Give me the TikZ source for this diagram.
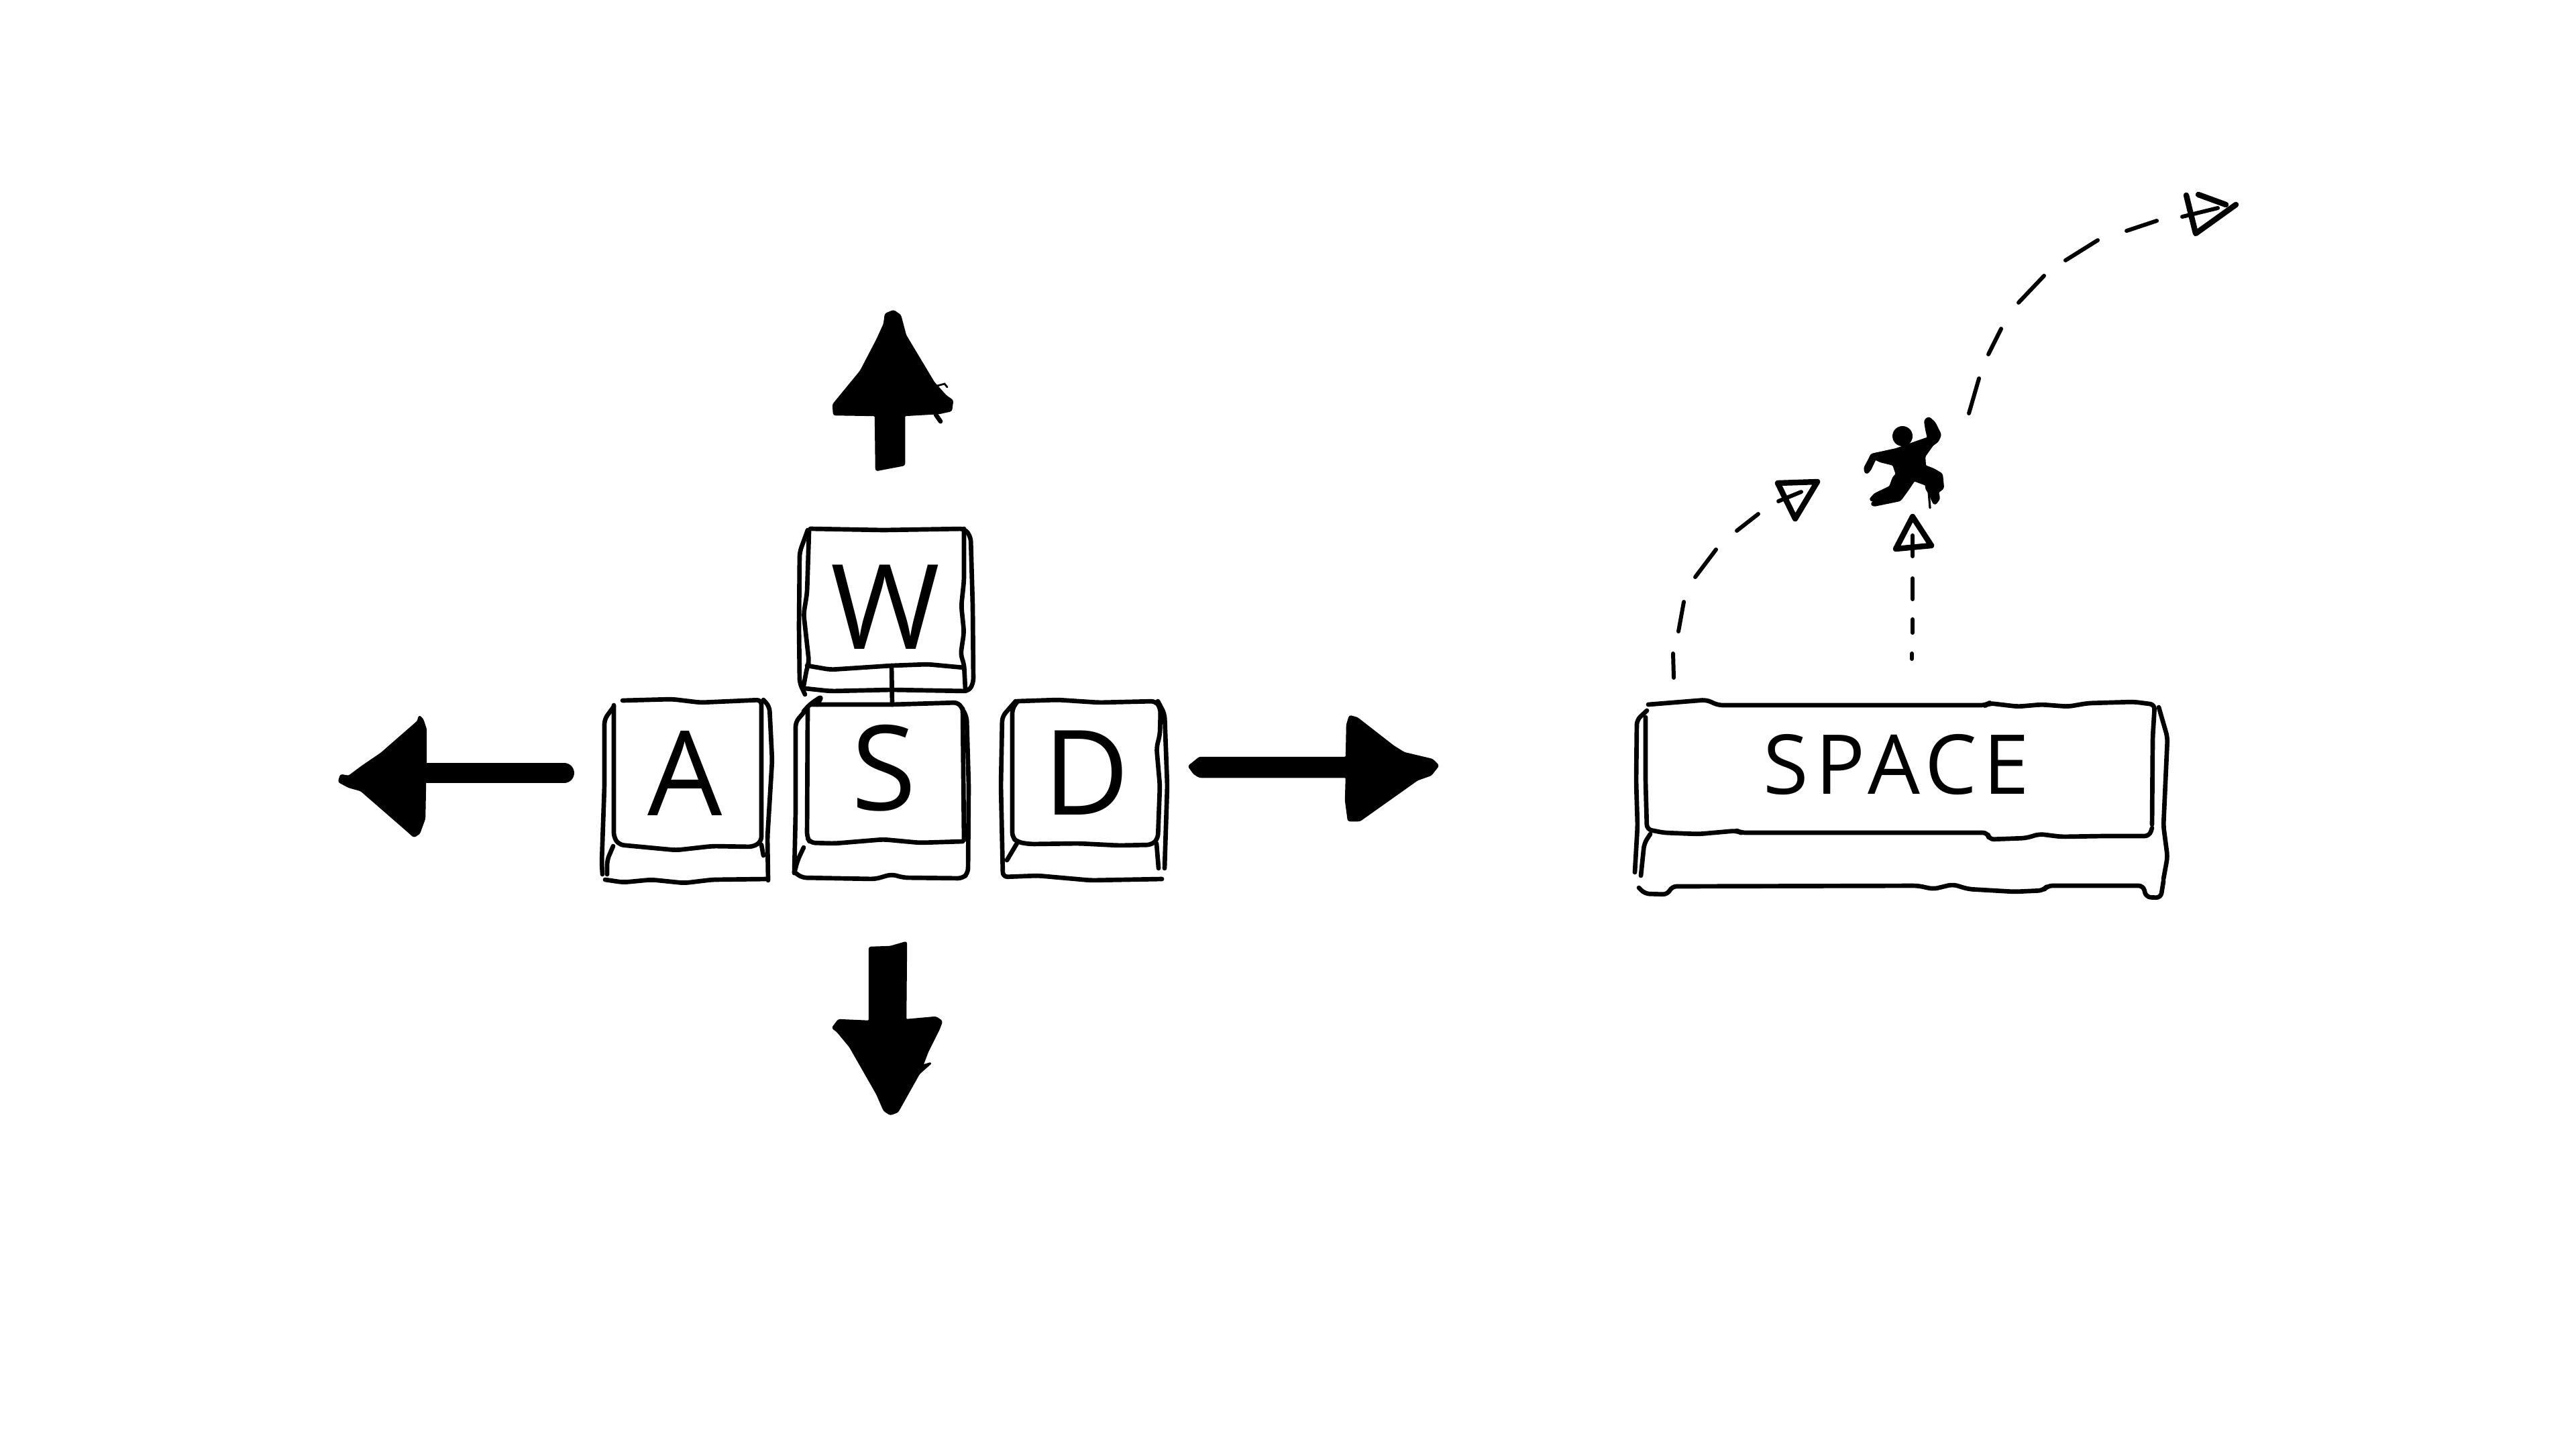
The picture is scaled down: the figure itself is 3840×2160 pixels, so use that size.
\documentclass[tikz,border=0pt]{standalone}
\usepackage{fontspec}
\setmainfont{Open Sans}
\newfontfamily\spacefont[LetterSpace=8]{Open Sans}
\usetikzlibrary{positioning}
\tikzset{
  keyline/.style={line width=1.9pt,line cap=round,line join=round,rounded corners=2pt},
  dashline/.style={line width=1.7pt,line cap=round},
  tipline/.style={line width=2.4pt,line cap=round,line join=round},
  keyletter/.style={inner sep=0pt,font=\fontsize{50}{50}\selectfont},
  solidhead/.style={fill=black,draw=black,line width=0.7pt,line join=round,rounded corners=0.7pt}
}
\begin{document}
\begin{tikzpicture}[x=0.01cm,y=-0.01cm]
\useasboundingbox (0,0) rectangle (3840,2160);

% letters
\node[keyletter] (keyW) at (1320,905) {W};
\node[keyletter] (keyA) at (1021,1152) {A};
\node[keyletter] (keyS) at (1318,1145) {S};
\node[keyletter] (keyD) at (1620,1152) {D};
\node[inner sep=0pt,font=\fontsize{35}{35}\selectfont\spacefont] (keySpace) at (2827,1140) {SPACE};

% W key
\draw[keyline] (1208,788) -- (1317,790) -- (1438,788) -- (1447,800) -- (1450,903) -- (1451,1018) -- (1444,1030) -- (1329,1028) -- (1238,1030) -- (1200,1026);
\draw[keyline] (1204,790) -- (1192,823) -- (1191,934) -- (1192,1018) -- (1200,1035);
\draw[keyline] (1206,792) -- (1203,884) -- (1198,915) -- (1206,987) -- (1203,995) -- (1198,1022);
\draw[keyline] (1203,992) -- (1238,998) -- (1329,992) -- (1383,990) -- (1437,995);
\draw[keyline] (1437,788) -- (1437,865) -- (1433,903) -- (1437,942) -- (1432,976) -- (1437,989) -- (1439,1028);
\coordinate (stemW) at (1329,992);
\coordinate (stemS) at (1330,1050);
\draw[keyline] (stemW) -- (stemS);

% A key
\draw[keyline] (928,1044) -- (1002,1042) -- (1044,1047) -- (1135,1043) -- (1135,1254) -- (1123,1262) -- (1062,1261) -- (1008,1267) -- (923,1259) -- (915,1248) -- (915,1051);
\draw[keyline] (915,1053) -- (901,1072) -- (901,1171) -- (897,1286) -- (898,1303);
\draw[keyline] (914,1261) -- (905,1282) -- (905,1303);
\draw[keyline] (1135,1259) -- (1138,1275);
\draw[keyline] (1138,1043) -- (1147,1053) -- (1151,1133) -- (1144,1248) -- (1145,1312);
\draw[keyline] (902,1311) -- (929,1315) -- (971,1311) -- (1020,1316) -- (1062,1311) -- (1144,1310);

% S key
\draw[keyline] (1198,1060) -- (1208,1049) -- (1226,1037) -- (1218,1050);
\draw[keyline] (1208,1050) -- (1329,1050) -- (1429,1047) -- (1441,1068) -- (1444,1171) -- (1443,1301) -- (1435,1309) -- (1347,1308) -- (1329,1303) -- (1305,1310) -- (1195,1308) -- (1186,1301);
\draw[keyline] (1204,1053) -- (1203,1248) -- (1208,1256) -- (1244,1257) -- (1317,1251) -- (1371,1256) -- (1435,1254);
\draw[keyline] (1198,1062) -- (1186,1076) -- (1186,1210) -- (1184,1301);
\draw[keyline] (1198,1263) -- (1189,1282) -- (1184,1301);
\draw[keyline] (1435,1056) -- (1437,1252);

% D key
\draw[keyline] (1517,1045) -- (1577,1043) -- (1638,1047) -- (1723,1045) -- (1730,1056) -- (1729,1095) -- (1724,1114) -- (1729,1171) -- (1726,1250) -- (1717,1259) -- (1668,1260) -- (1608,1257) -- (1535,1258) -- (1517,1255) -- (1509,1248) -- (1509,1056) -- (1517,1045);
\draw[keyline] (1514,1045) -- (1494,1068) -- (1492,1171) -- (1495,1307) -- (1547,1305) -- (1626,1312) -- (1732,1310);
\draw[keyline] (1726,1045) -- (1736,1064) -- (1740,1171) -- (1736,1294);
\draw[keyline] (1517,1255) -- (1501,1282);
\draw[keyline] (1724,1257) -- (1727,1294);

% space key
\draw[keyline] (2457,1050) -- (2544,1043) -- (2561,1051) -- (2960,1051) -- (2965,1048) -- (3008,1053) -- (3043,1050) -- (3083,1053) -- (3112,1048) -- (3181,1046) -- (3212,1050) -- (3209,1099) -- (3208,1229);
\draw[keyline] (2455,1059) -- (2440,1073) -- (2439,1165) -- (2441,1231) -- (2437,1300);
\draw[keyline] (2453,1069) -- (2453,1165) -- (2455,1236) -- (2480,1241) -- (2532,1243) -- (2589,1238) -- (2595,1241) -- (2963,1241) -- (2965,1251) -- (3020,1249) -- (3040,1243) -- (3072,1247) -- (3135,1246) -- (3204,1246) -- (3208,1234);
\draw[keyline] (3218,1054) -- (3231,1099) -- (3225,1231) -- (3231,1277) -- (3225,1310);
\draw[keyline] (2460,1243) -- (2451,1257) -- (2446,1305);
\draw[keyline] (2443,1323) -- (2452,1332) -- (2486,1333) -- (2492,1321) -- (2859,1320) -- (2882,1325) -- (2911,1318) -- (2934,1325) -- (3003,1329) -- (3046,1327) -- (3052,1320) -- (3195,1320) -- (3199,1337) -- (3221,1338) -- (3225,1313);

% big arrows
\fill[solidhead] (1332,463) -- (1320,468) -- (1318,483) -- (1307,507) -- (1283,553) -- (1242,603) -- (1243,618) -- (1305,619) -- (1306,701) -- (1348,693) -- (1348,619) -- (1400,616) -- (1418,612) -- (1420,597) -- (1410,590) -- (1392,570) -- (1350,500) -- (1342,470) -- cycle;
\draw[keyline] (1395,618) -- (1402,628);
\draw[line width=0.8pt,line cap=round] (1397,575) -- (1408,572) -- (1412,577);
\fill[solidhead] (505,1165) -- (508,1155) -- (520,1157) -- (540,1142) -- (568,1123) -- (623,1075) -- (625,1067) -- (630,1072) -- (635,1087) -- (635,1137) -- (634,1167) -- (633,1220) -- (625,1242) -- (617,1247) -- (607,1238) -- (538,1178) -- (520,1173) -- cycle;
\coordinate (leftShaft) at (634,1152);
\coordinate (leftEnd) at (841,1152);
\draw[line width=8.5pt,line cap=round] (leftShaft) -- (leftEnd);
\fill[solidhead] (1772,1142) -- (1788,1129) -- (2007,1129) -- (2008,1080) -- (2012,1067) -- (2023,1070) -- (2077,1112) -- (2093,1122) -- (2135,1132) -- (2144,1141) -- (2133,1155) -- (2113,1162) -- (2027,1223) -- (2010,1223) -- (2006,1193) -- (2007,1158) -- (1788,1158) -- (1780,1153) -- cycle;
\fill[solidhead] (1296,1412) -- (1327,1411) -- (1351,1404) -- (1350,1520) -- (1395,1516) -- (1404,1522) -- (1400,1533) -- (1383,1567) -- (1375,1588) -- (1388,1584) -- (1370,1600) -- (1338,1657) -- (1327,1661) -- (1318,1655) -- (1307,1630) -- (1267,1560) -- (1248,1537) -- (1241,1532) -- (1250,1520) -- (1296,1522) -- cycle;

% jump dashes
\foreach \xa/\ya/\xb/\yb in {2495/1010/2494/974,2502/941/2510/897,2527/860/2558/819,2589/791/2621/766,
  2935/616/2950/564,2964/528/2983/490,3009/451/3047/411,3079/388/3127/358,3170/344/3215/329,
  2850/982/2850/974,2851/943/2851/923,2851/893/2851/862}
  \draw[dashline] (\xa,\ya) -- (\xb,\yb);

% small arrow heads
\draw[tipline] (2650,720) -- (2709,718) -- (2676,773) -- cycle;
\draw[dashline] (2651,747) -- (2685,733);
\draw[tipline] (3333,305) -- (3273,348) -- (3259,291);
\draw[tipline] (3277,290) -- (3318,305);
\draw[dashline] (3253,323) -- (3306,310);
\draw[tipline] (2851,770) -- (2826,818) -- (2879,813) -- cycle;
\draw[dashline] (2851,829) -- (2851,798);

% jumping figure
\fill (2836,650) circle (15);
\fill[solidhead,line width=1.2pt] (2875,623) -- (2883,630) -- (2892,648) -- (2888,657) -- (2880,663) -- (2868,680) -- (2869,695) -- (2882,700) -- (2894,707) -- (2896,727) -- (2888,733) -- (2890,743) -- (2884,751) -- (2880,743) -- (2878,737) -- (2872,728) -- (2872,722) -- (2853,715) -- (2843,730) -- (2832,745) -- (2793,753) -- (2790,750) -- (2808,745) -- (2788,745) -- (2795,737) -- (2818,726) -- (2823,712) -- (2828,707) -- (2823,692) -- (2803,687) -- (2795,683) -- (2787,700) -- (2782,705) -- (2780,698) -- (2788,683) -- (2790,678) -- (2827,670) -- (2855,660) -- (2875,653) -- (2872,640) -- (2870,627) -- cycle;
\draw[line width=0.9pt,line cap=round] (2875,733) -- (2877,757);
\end{tikzpicture}
\end{document}
